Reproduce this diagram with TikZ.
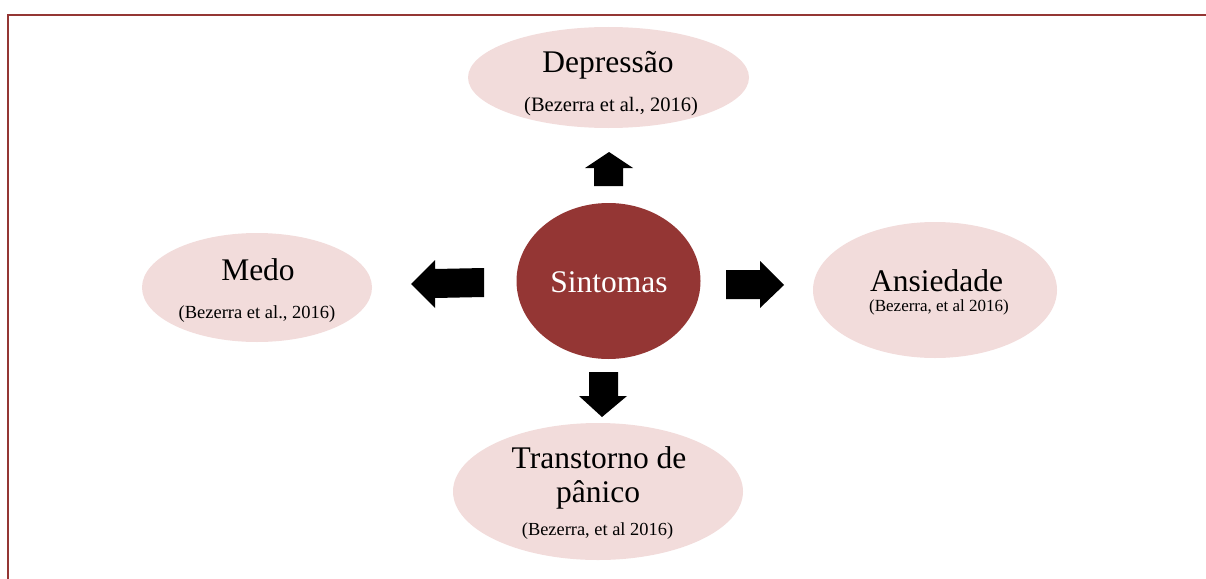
\documentclass[tikz,border=0pt]{standalone}
\usepackage{fontspec}
\setmainfont{Liberation Serif}
\usetikzlibrary{shapes.geometric}
\definecolor{dred}{HTML}{943634}
\definecolor{lpink}{HTML}{F2DCDB}
\tikzset{
  bubble/.style={ellipse, fill=lpink, draw=none, inner sep=0pt},
  hub/.style={ellipse, fill=dred, draw=none, inner sep=0pt},
  lbl/.style={anchor=base, inner sep=0pt, font=\fontsize{31.5}{36}\selectfont},
  cite/.style={anchor=base, inner sep=0pt},
  blockarrow/.style={fill=black, draw=none}
}
\begin{document}
\begin{tikzpicture}[x=1pt,y=-1pt]
\useasboundingbox (0,0) rectangle (1206,578);
\draw[dred, line width=2pt] (8,15) rectangle (1230,600);
% ellipses
\node[bubble, minimum width=281pt, minimum height=101pt] (dep) at (608.5,77.5) {};
\node[bubble, minimum width=230pt, minimum height=109pt] (medo) at (257,287.5) {};
\node[bubble, minimum width=244pt, minimum height=136pt] (ans) at (935,290) {};
\node[bubble, minimum width=290pt, minimum height=137pt] (tp) at (598,491.5) {};
\node[hub, minimum width=184pt, minimum height=156pt] (sin) at (608.5,281) {};
% texts
\node[lbl] (tdep) at (608,72) {Depressão};
\node[cite, font=\fontsize{20.5}{24}\selectfont] (cdep) at (611,111.5) {(Bezerra et al., 2016)};
\node[lbl] (tmedo) at (258,280) {Medo};
\node[cite, font=\fontsize{18.5}{22}\selectfont] (cmedo) at (257,318) {(Bezerra et al., 2016)};
\node[lbl] (tans) at (936.5,291) {Ansiedade};
\node[cite, font=\fontsize{17}{20}\selectfont] (cans) at (939,311) {(Bezerra, et al 2016)};
\node[lbl, text depth=2pt] (ttp1) at (599,468) {Transtorno de};
\node[lbl, text height=20pt] (ttp2) at (598,502) {pânico};
\node[cite, font=\fontsize{18.4}{22}\selectfont] (ctp) at (597.5,535) {(Bezerra, et al 2016)};
\node[lbl, text=white] (tsin) at (609,292) {Sintomas};
% block arrows
\fill[blockarrow] (609,152) -- (633,168) -- (623,168) -- (623,186) -- (594,186) -- (594,168) -- (585,168) -- cycle;
\fill[blockarrow] (411,284) -- (435,260) -- (435,269) -- (484,268) -- (484,297) -- (435,298) -- (435,308) -- cycle;
\fill[blockarrow] (784,285) -- (760,261) -- (760,270) -- (726,270) -- (726,299) -- (760,299) -- (760,308) -- cycle;
\fill[blockarrow] (602,417) -- (627,396) -- (618,396) -- (618,372) -- (589,372) -- (589,396) -- (579,396) -- cycle;
\end{tikzpicture}
\end{document}
